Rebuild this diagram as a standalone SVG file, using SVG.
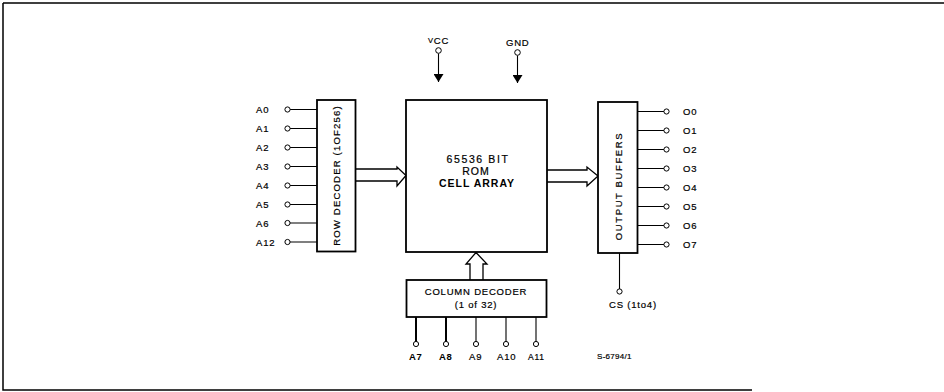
<svg xmlns="http://www.w3.org/2000/svg" width="944" height="392" viewBox="0 0 944 392">
<defs>
<style>
.box{fill:#fff;stroke:#000;stroke-width:1.8}
.ln{stroke:#000;stroke-width:1.1;fill:none}
.thk{stroke:#000;stroke-width:2;fill:none}
.pin{fill:#fff;stroke:#000;stroke-width:1}
.t{font-family:"Liberation Sans",Arial,sans-serif;font-size:9.5px;fill:#000;letter-spacing:0.8px;stroke:#000;stroke-width:0.2}
.tb{font-family:"Liberation Sans",Arial,sans-serif;font-size:9.5px;fill:#000;font-weight:bold;letter-spacing:0.6px}
.bus{fill:#fff;stroke:#000;stroke-width:1.3;stroke-linejoin:miter}
</style>
<marker id="ah" viewBox="0 0 8 10" refX="8" refY="5" markerWidth="8" markerHeight="10" markerUnits="userSpaceOnUse" orient="auto">
<path d="M0,0 L8,5 L0,10 Z" fill="#000"/>
</marker>
</defs>
<rect width="944" height="392" fill="#fff"/>
<g id="frame">
<path d="M3,3 H944 M3,3 V390 H752" stroke="#000" stroke-width="1.5" fill="none"/>
</g>

<g id="connectors">
<path class="ln" d="M290,109.5 H317 M290,128.5 H317 M290,147.5 H317 M290,166.5 H317 M290,185.5 H317 M290,204.5 H317 M290,223 H317 M290,242 H317"/>
<path class="ln" d="M638,111.5 H664 M638,130.5 H664 M638,149.5 H664 M638,168.5 H664 M638,187.5 H664 M638,206.5 H664 M638,225.5 H664 M638,244.5 H664"/>
<path class="ln" d="M619.5,253 V289"/>
<path class="thk" d="M416,317 V341.5 M446,317 V341.5"/>
<path class="ln" d="M476,317 V341.5 M506,317 V341.5 M536,317 V341.5"/>
<path class="ln" d="M438.5,53.5 V82" marker-end="url(#ah)"/>
<path class="ln" d="M517.5,55.5 V83" marker-end="url(#ah)"/>
<path class="bus" d="M355,169 H397 V167 L406,175.5 L397,186 V181 H355"/>
<path class="bus" d="M547,170 H587 V167 L598,176 L587,186 V182 H547"/>
<path class="bus" d="M470,280 V264 H466 L476,252.5 L487,264 H483 V280"/>
</g>

<g id="pins">
<circle class="pin" cx="287.5" cy="109.5" r="2.6"/>
<circle class="pin" cx="287.5" cy="128.5" r="2.6"/>
<circle class="pin" cx="287.5" cy="147.5" r="2.6"/>
<circle class="pin" cx="287.5" cy="166.5" r="2.6"/>
<circle class="pin" cx="287.5" cy="185.5" r="2.6"/>
<circle class="pin" cx="287.5" cy="204.5" r="2.6"/>
<circle class="pin" cx="287.5" cy="223" r="2.6"/>
<circle class="pin" cx="287.5" cy="242" r="2.6"/>
<circle class="pin" cx="666.5" cy="111.5" r="2.6"/>
<circle class="pin" cx="666.5" cy="130.5" r="2.6"/>
<circle class="pin" cx="666.5" cy="149.5" r="2.6"/>
<circle class="pin" cx="666.5" cy="168.5" r="2.6"/>
<circle class="pin" cx="666.5" cy="187.5" r="2.6"/>
<circle class="pin" cx="666.5" cy="206.5" r="2.6"/>
<circle class="pin" cx="666.5" cy="225.5" r="2.6"/>
<circle class="pin" cx="666.5" cy="244.5" r="2.6"/>
<circle class="pin" cx="619.5" cy="291.5" r="2.6"/>
<circle class="pin" cx="416" cy="344" r="2.6"/>
<circle class="pin" cx="446" cy="344" r="2.6"/>
<circle class="pin" cx="476" cy="344" r="2.6"/>
<circle class="pin" cx="506" cy="344" r="2.6"/>
<circle class="pin" cx="536" cy="344" r="2.6"/>
<circle class="pin" cx="438.5" cy="50.5" r="2.8"/>
<circle class="pin" cx="517.5" cy="52.5" r="2.8"/>
</g>

<g id="labels">
<text class="t" x="256" y="113">A0</text>
<text class="t" x="256" y="132">A1</text>
<text class="t" x="256" y="151">A2</text>
<text class="t" x="256" y="170">A3</text>
<text class="t" x="256" y="189">A4</text>
<text class="t" x="256" y="208">A5</text>
<text class="t" x="256" y="227">A6</text>
<text class="t" x="256" y="246">A12</text>
<text class="t" x="683" y="115">O0</text>
<text class="t" x="683" y="134">O1</text>
<text class="t" x="683" y="153">O2</text>
<text class="t" x="683" y="172">O3</text>
<text class="t" x="683" y="191">O4</text>
<text class="t" x="683" y="210">O5</text>
<text class="t" x="683" y="229">O6</text>
<text class="t" x="683" y="248">O7</text>
<text class="t" x="609" y="308">CS (1to4)</text>
<text class="tb" x="409" y="360">A7</text>
<text class="tb" x="439" y="360">A8</text>
<text class="t" x="469" y="360">A9</text>
<text class="t" x="497" y="360">A10</text>
<text class="t" x="528" y="360" style="font-size:8.5px">A11</text>
<text class="t" x="597" y="359" style="font-size:8px;letter-spacing:0.3px">S-6794/1</text>
<text class="t" x="428" y="44"><tspan style="font-size:7.5px" dy="-1.5">V</tspan><tspan dy="1.5">CC</tspan></text>
<text class="t" x="506" y="46">GND</text>
</g>

<g id="row-decoder">
<rect class="box" x="317" y="100" width="38.5" height="151.5"/>
<text class="t" transform="translate(339.5,175.5) rotate(-90)" text-anchor="middle" style="letter-spacing:1.2px">ROW DECODER (1OF256)</text>
</g>

<g id="cell-array">
<rect class="box" x="406" y="100" width="141" height="152"/>
<text class="t" x="478" y="163" text-anchor="middle" style="font-size:10.5px;letter-spacing:1.6px">65536 BIT</text>
<text class="t" x="476" y="175" text-anchor="middle" style="font-size:10.5px;letter-spacing:1px">ROM</text>
<text class="tb" x="477" y="187" text-anchor="middle" style="font-size:10.5px;letter-spacing:1px">CELL ARRAY</text>
</g>

<g id="output-buffers">
<rect class="box" x="598" y="102" width="39.5" height="151"/>
<text class="t" transform="translate(621.5,186) rotate(-90)" text-anchor="middle" style="letter-spacing:1.6px">OUTPUT  BUFFERS</text>
</g>

<g id="column-decoder">
<rect class="box" x="406.5" y="280" width="140" height="37"/>
<text class="t" x="476" y="295" text-anchor="middle">COLUMN DECODER</text>
<text class="t" x="476" y="308" text-anchor="middle">(1 of 32)</text>
</g>
</svg>
